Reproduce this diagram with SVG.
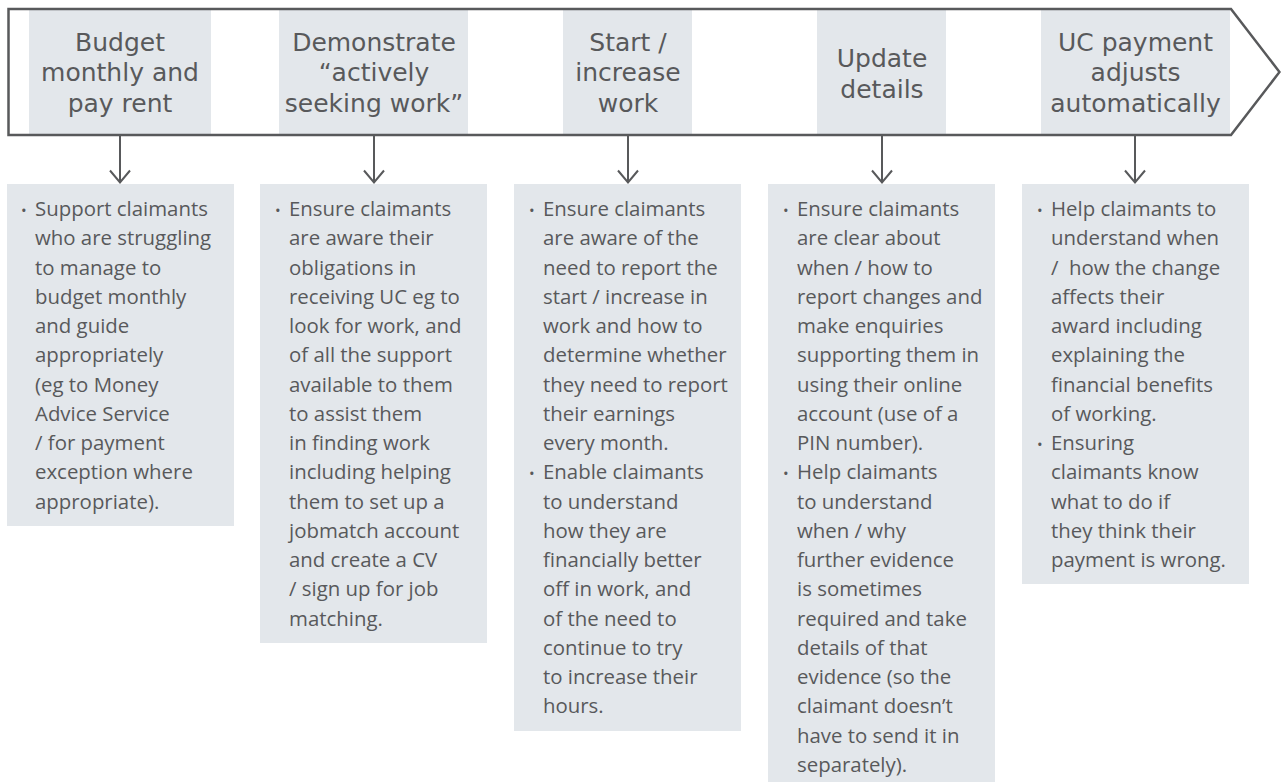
<svg xmlns="http://www.w3.org/2000/svg" width="1281" height="782" viewBox="0 0 1281 782">
<style>
.hbox{fill:#e3e7eb}
.box{fill:#e3e7eb}
.head{font-family:"DejaVu Sans","Open Sans",sans-serif;font-size:25px;fill:#58595b;text-anchor:middle}
.body{font-family:"Open Sans","Noto Sans",sans-serif;font-size:20.4px;fill:#58595b}
.bul{font-family:"Open Sans","Noto Sans",sans-serif;font-size:15px;fill:#58595b}
.banner{fill:none;stroke:#58595b;stroke-width:2.5}
.conn{stroke:#58595b;stroke-width:2;fill:none}
</style>
<defs>
<marker id="ah" viewBox="-14 -12 16 24" refX="0" refY="0" markerWidth="16" markerHeight="24" markerUnits="userSpaceOnUse" orient="auto">
<path d="M-12,-10 L0,0 L-12,10" fill="none" stroke="#58595b" stroke-width="2"/>
</marker>
</defs>
<rect width="1281" height="782" fill="#ffffff"/>

<g id="step1">
<rect class="hbox" x="29" y="10" width="182" height="124"/>
<text class="head"><tspan x="120" y="50.5">Budget</tspan><tspan x="120" y="81">monthly and</tspan><tspan x="120" y="111.5">pay rent</tspan></text>
</g>
<g id="step2">
<rect class="hbox" x="279" y="10" width="189" height="124"/>
<text class="head"><tspan x="374" y="50.5">Demonstrate</tspan><tspan x="374" y="81">“actively</tspan><tspan x="374" y="111.5">seeking work”</tspan></text>
</g>
<g id="step3">
<rect class="hbox" x="563" y="10" width="129" height="124"/>
<text class="head"><tspan x="628" y="50.5">Start /</tspan><tspan x="628" y="81">increase</tspan><tspan x="628" y="111.5">work</tspan></text>
</g>
<g id="step4">
<rect class="hbox" x="817" y="10" width="129" height="124"/>
<text class="head"><tspan x="882" y="67">Update</tspan><tspan x="882" y="97.5">details</tspan></text>
</g>
<g id="step5">
<rect class="hbox" x="1041" y="10" width="189" height="124"/>
<text class="head"><tspan x="1135.5" y="50.5">UC payment</tspan><tspan x="1135.5" y="81">adjusts</tspan><tspan x="1135.5" y="111.5">automatically</tspan></text>
</g>

<g id="banner">
<polygon class="banner" points="8.5,9 1231,9 1279.5,72 1231,135 8.5,135"/>
</g>

<g id="connectors">
<line class="conn" x1="120" y1="136" x2="120" y2="182.5" marker-end="url(#ah)"/>
<line class="conn" x1="374" y1="136" x2="374" y2="182.5" marker-end="url(#ah)"/>
<line class="conn" x1="628" y1="136" x2="628" y2="182.5" marker-end="url(#ah)"/>
<line class="conn" x1="882" y1="136" x2="882" y2="182.5" marker-end="url(#ah)"/>
<line class="conn" x1="1135" y1="136" x2="1135" y2="182.5" marker-end="url(#ah)"/>
</g>

<g id="detail1">
<rect class="box" x="7" y="184" width="227" height="342"/>
<text class="bul" x="21" y="216">•</text>
<text class="body">
<tspan x="35" y="216">Support claimants</tspan>
<tspan x="35" y="245.25">who are struggling</tspan>
<tspan x="35" y="274.5">to manage to</tspan>
<tspan x="35" y="303.75">budget monthly</tspan>
<tspan x="35" y="333">and guide</tspan>
<tspan x="35" y="362.25">appropriately</tspan>
<tspan x="35" y="391.5">(eg to Money</tspan>
<tspan x="35" y="420.75">Advice Service</tspan>
<tspan x="35" y="450">/ for payment</tspan>
<tspan x="35" y="479.25">exception where</tspan>
<tspan x="35" y="508.5">appropriate).</tspan>
</text>
</g>

<g id="detail2">
<rect class="box" x="260" y="184" width="227" height="459"/>
<text class="bul" x="275" y="216">•</text>
<text class="body">
<tspan x="289" y="216">Ensure claimants</tspan>
<tspan x="289" y="245.25">are aware their</tspan>
<tspan x="289" y="274.5">obligations in</tspan>
<tspan x="289" y="303.75">receiving UC eg to</tspan>
<tspan x="289" y="333">look for work, and</tspan>
<tspan x="289" y="362.25">of all the support</tspan>
<tspan x="289" y="391.5">available to them</tspan>
<tspan x="289" y="420.75">to assist them</tspan>
<tspan x="289" y="450">in finding work</tspan>
<tspan x="289" y="479.25">including helping</tspan>
<tspan x="289" y="508.5">them to set up a</tspan>
<tspan x="289" y="537.75">jobmatch account</tspan>
<tspan x="289" y="567">and create a CV</tspan>
<tspan x="289" y="596.25">/ sign up for job</tspan>
<tspan x="289" y="625.5">matching.</tspan>
</text>
</g>

<g id="detail3">
<rect class="box" x="514" y="184" width="227" height="547"/>
<text class="bul" x="529" y="216">•</text>
<text class="bul" x="529" y="479.25">•</text>
<text class="body">
<tspan x="543" y="216">Ensure claimants</tspan>
<tspan x="543" y="245.25">are aware of the</tspan>
<tspan x="543" y="274.5">need to report the</tspan>
<tspan x="543" y="303.75">start / increase in</tspan>
<tspan x="543" y="333">work and how to</tspan>
<tspan x="543" y="362.25">determine whether</tspan>
<tspan x="543" y="391.5">they need to report</tspan>
<tspan x="543" y="420.75">their earnings</tspan>
<tspan x="543" y="450">every month.</tspan>
<tspan x="543" y="479.25">Enable claimants</tspan>
<tspan x="543" y="508.5">to understand</tspan>
<tspan x="543" y="537.75">how they are</tspan>
<tspan x="543" y="567">financially better</tspan>
<tspan x="543" y="596.25">off in work, and</tspan>
<tspan x="543" y="625.5">of the need to</tspan>
<tspan x="543" y="654.75">continue to try</tspan>
<tspan x="543" y="684">to increase their</tspan>
<tspan x="543" y="713.25">hours.</tspan>
</text>
</g>

<g id="detail4">
<rect class="box" x="768" y="184" width="227" height="598"/>
<text class="bul" x="783" y="216">•</text>
<text class="bul" x="783" y="479.25">•</text>
<text class="body">
<tspan x="797" y="216">Ensure claimants</tspan>
<tspan x="797" y="245.25">are clear about</tspan>
<tspan x="797" y="274.5">when / how to</tspan>
<tspan x="797" y="303.75">report changes and</tspan>
<tspan x="797" y="333">make enquiries</tspan>
<tspan x="797" y="362.25">supporting them in</tspan>
<tspan x="797" y="391.5">using their online</tspan>
<tspan x="797" y="420.75">account (use of a</tspan>
<tspan x="797" y="450">PIN number).</tspan>
<tspan x="797" y="479.25">Help claimants</tspan>
<tspan x="797" y="508.5">to understand</tspan>
<tspan x="797" y="537.75">when / why</tspan>
<tspan x="797" y="567">further evidence</tspan>
<tspan x="797" y="596.25">is sometimes</tspan>
<tspan x="797" y="625.5">required and take</tspan>
<tspan x="797" y="654.75">details of that</tspan>
<tspan x="797" y="684">evidence (so the</tspan>
<tspan x="797" y="713.25">claimant doesn’t</tspan>
<tspan x="797" y="742.5">have to send it in</tspan>
<tspan x="797" y="771.75">separately).</tspan>
</text>
</g>

<g id="detail5">
<rect class="box" x="1022" y="184" width="227" height="400"/>
<text class="bul" x="1037" y="216">•</text>
<text class="bul" x="1037" y="450">•</text>
<text class="body">
<tspan x="1051" y="216">Help claimants to</tspan>
<tspan x="1051" y="245.25">understand when</tspan>
<tspan x="1051" y="274.5" xml:space="preserve">/  how the change</tspan>
<tspan x="1051" y="303.75">affects their</tspan>
<tspan x="1051" y="333">award including</tspan>
<tspan x="1051" y="362.25">explaining the</tspan>
<tspan x="1051" y="391.5">financial benefits</tspan>
<tspan x="1051" y="420.75">of working.</tspan>
<tspan x="1051" y="450">Ensuring</tspan>
<tspan x="1051" y="479.25">claimants know</tspan>
<tspan x="1051" y="508.5">what to do if</tspan>
<tspan x="1051" y="537.75">they think their</tspan>
<tspan x="1051" y="567">payment is wrong.</tspan>
</text>
</g>
</svg>
